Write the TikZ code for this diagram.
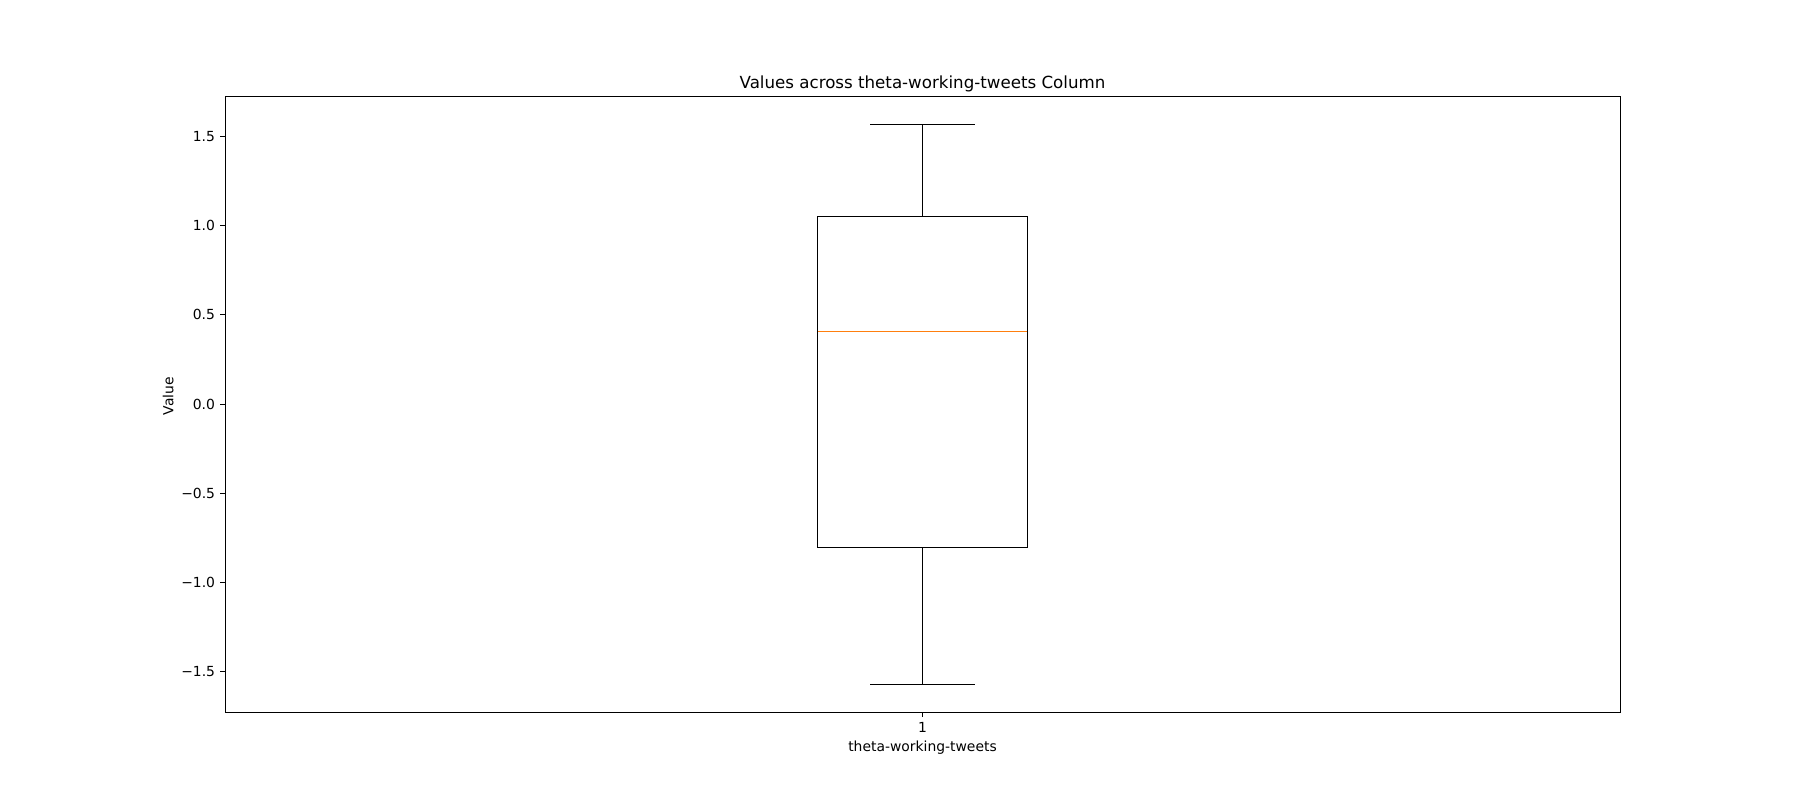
\documentclass[tikz,border=0pt]{standalone}
\usepackage{fontspec}
\setmainfont{DejaVu Sans}
\definecolor{mplorange}{HTML}{FF7F0E}
\tikzset{
  spine/.style={line width=0.6pt, black},
  boxline/.style={line width=0.7pt, black},
  medianline/.style={line width=0.7pt, mplorange},
  tickmark/.style={line width=0.6pt, black},
  ticklabel/.style={font=\fontsize{10}{12}\selectfont, inner sep=0pt},
}
\begin{document}
\begin{tikzpicture}[x=0.72pt,y=0.72pt]
\useasboundingbox (0,0) rectangle (1800,800);
% axes frame
\coordinate (axSW) at (225,88);
\coordinate (axNE) at (1620,704);
% title
\node[font=\fontsize{12}{14}\selectfont, inner sep=0pt, anchor=base] (title) at (922.5,711.7) {Values across theta-working-tweets Column};
% data scope
\begin{scope}[shift={(0,396)}, y=128.34pt]
  \coordinate (wlo) at (922.5,-1.5708);
  \coordinate (whi) at (922.5,1.5708);
  \coordinate (q1) at (922.5,-0.805);
  \coordinate (q3) at (922.5,1.05);
  \coordinate (boxSW) at (817.9,-0.805);
  \coordinate (boxNE) at (1027.1,1.05);
  \coordinate (medL) at (817.9,0.406);
  \coordinate (medR) at (1027.1,0.406);
  \coordinate (capLoL) at (870.2,-1.5708);
  \coordinate (capLoR) at (974.8,-1.5708);
  \coordinate (capHiL) at (870.2,1.5708);
  \coordinate (capHiR) at (974.8,1.5708);
  \draw[boxline] (boxSW) rectangle (boxNE);
  \draw[boxline] (q1) -- (wlo);
  \draw[boxline] (q3) -- (whi);
  \draw[boxline] (capLoL) -- (capLoR);
  \draw[boxline] (capHiL) -- (capHiR);
  \draw[medianline] (medL) -- (medR);
  % y ticks
  \foreach \v/\lab/\nm in {-1.5/{−1.5}/a,-1.0/{−1.0}/b,-0.5/{−0.5}/c,0.0/{0.0}/d,0.5/{0.5}/e,1.0/{1.0}/f,1.5/{1.5}/g}{
    \coordinate (yt\nm) at (225,\v);
    \draw[tickmark] (yt\nm) -- ++(-4.86,0);
    \node[ticklabel, anchor=east] (ytl\nm) at ([xshift=-9.72*0.72pt]yt\nm) {\lab};
  }
\end{scope}
\draw[spine] (axSW) rectangle (axNE);
% x tick
\coordinate (xt) at (922.5,88);
\draw[tickmark] (xt) -- ++(0,-4.86);
\node[ticklabel, anchor=base] (xtl) at (922.5,67.3) {1};
% axis labels
\node[ticklabel, anchor=base] (xlabel) at (922.5,48.3) {theta-working-tweets};
\node[ticklabel, anchor=base, rotate=90] (ylabel) at (173.3,404) {Value};
\end{tikzpicture}
\end{document}
